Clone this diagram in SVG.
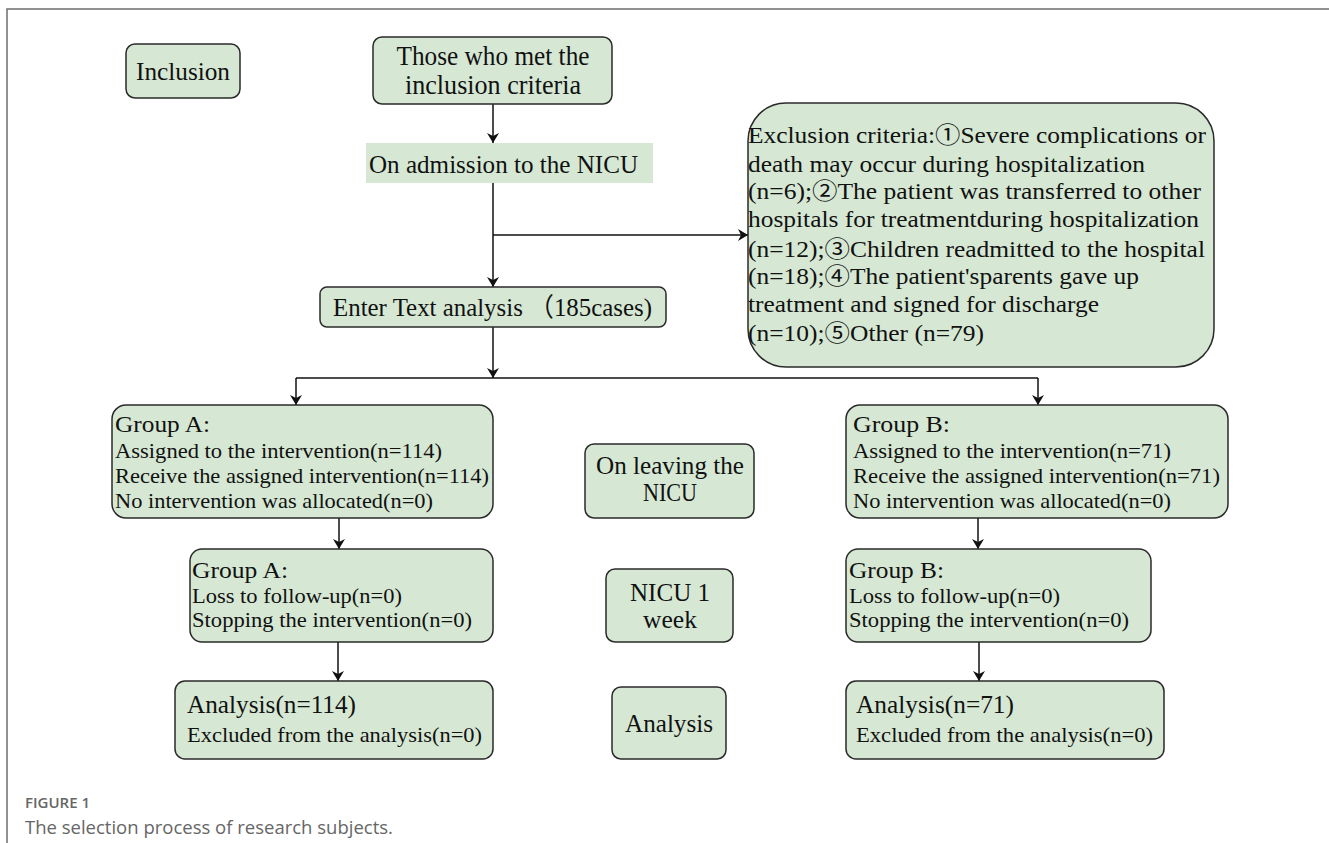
<svg xmlns="http://www.w3.org/2000/svg" width="1329" height="843" viewBox="0 0 1329 843">
<defs>
<marker id="ah" markerWidth="10" markerHeight="12" refX="10" refY="6" orient="auto" markerUnits="userSpaceOnUse">
<path d="M0,0 L10,6 L0,12 L3,6 Z" fill="#111"/>
</marker>
<style>
.box{fill:#d6e8d4;stroke:#2a2a2a;stroke-width:1.5}
.t{font-family:"Liberation Serif","DejaVu Serif","Noto Sans CJK SC",serif;fill:#111}
.c{text-anchor:middle}
.ln{stroke:#111;stroke-width:1.5;fill:none}
.arr{marker-end:url(#ah)}
.cap{font-family:"Open Sans","Noto Sans",sans-serif}
</style>
</defs>
<rect width="1329" height="843" fill="#fff"/>
<path d="M7,843 V9 H1329" fill="none" stroke="#6e6e6e" stroke-width="1.5"/>

<g id="connectors">
<line class="ln arr" x1="493" y1="104" x2="493" y2="143"/>
<line class="ln arr" x1="493" y1="183" x2="493" y2="287"/>
<line class="ln arr" x1="493" y1="235" x2="748" y2="235"/>
<line class="ln arr" x1="493" y1="327" x2="493" y2="378"/>
<line class="ln" x1="296" y1="378" x2="1038" y2="378"/>
<line class="ln arr" x1="296" y1="378" x2="296" y2="405"/>
<line class="ln arr" x1="1038" y1="378" x2="1038" y2="405"/>
<line class="ln arr" x1="339" y1="518" x2="339" y2="549"/>
<line class="ln arr" x1="338" y1="642" x2="338" y2="681"/>
<line class="ln arr" x1="978" y1="518" x2="978" y2="549"/>
<line class="ln arr" x1="979" y1="642" x2="979" y2="681"/>
</g>

<g id="inclusion">
<rect class="box" x="126" y="44" width="114" height="54" rx="9"/>
<text class="t c" x="183" y="80" font-size="26" textLength="94" lengthAdjust="spacingAndGlyphs">Inclusion</text>
</g>

<g id="met-criteria">
<rect class="box" x="373" y="37" width="239" height="67" rx="9"/>
<text class="t c" x="493" y="65" font-size="27" textLength="193" lengthAdjust="spacingAndGlyphs">Those who met the</text>
<text class="t c" x="493" y="94" font-size="27" textLength="176" lengthAdjust="spacingAndGlyphs">inclusion criteria</text>
</g>

<g id="admission">
<rect x="366" y="143" width="287" height="40" fill="#d6e8d4"/>
<text class="t" x="369" y="173" font-size="26" textLength="269" lengthAdjust="spacingAndGlyphs">On admission to the NICU</text>
</g>

<g id="exclusion">
<rect class="box" x="748" y="103" width="466" height="264" rx="38"/>
<text class="t" x="748" y="143" font-size="23" textLength="458" lengthAdjust="spacingAndGlyphs">Exclusion criteria:①Severe complications or</text>
<text class="t" x="748" y="172" font-size="23" textLength="397" lengthAdjust="spacingAndGlyphs">death may occur during hospitalization</text>
<text class="t" x="748" y="199" font-size="23" textLength="453" lengthAdjust="spacingAndGlyphs">(n=6);②The patient was transferred to other</text>
<text class="t" x="748" y="227" font-size="23" textLength="451" lengthAdjust="spacingAndGlyphs">hospitals for treatmentduring hospitalization</text>
<text class="t" x="748" y="257" font-size="23" textLength="457" lengthAdjust="spacingAndGlyphs">(n=12);③Children readmitted to the hospital</text>
<text class="t" x="748" y="284" font-size="23" textLength="391" lengthAdjust="spacingAndGlyphs">(n=18);④The patient'sparents gave up</text>
<text class="t" x="748" y="312" font-size="23" textLength="351" lengthAdjust="spacingAndGlyphs">treatment and signed for discharge</text>
<text class="t" x="748" y="341" font-size="23" textLength="236" lengthAdjust="spacingAndGlyphs">(n=10);⑤Other (n=79)</text>
</g>

<g id="enter">
<rect class="box" x="320" y="287" width="346" height="40" rx="7"/>
<text class="t" x="333" y="316" font-size="26" textLength="319" lengthAdjust="spacingAndGlyphs">Enter Text analysis （185cases)</text>
</g>

<g id="groupA1">
<rect class="box" x="112" y="405" width="381" height="113" rx="14"/>
<text class="t" x="115" y="432" font-size="24" textLength="95" lengthAdjust="spacingAndGlyphs">Group A:</text>
<text class="t" x="115" y="458" font-size="21" textLength="327" lengthAdjust="spacingAndGlyphs">Assigned to the intervention(n=114)</text>
<text class="t" x="115" y="483" font-size="21" textLength="374" lengthAdjust="spacingAndGlyphs">Receive the assigned intervention(n=114)</text>
<text class="t" x="115" y="508" font-size="21" textLength="318" lengthAdjust="spacingAndGlyphs">No intervention was allocated(n=0)</text>
</g>

<g id="groupA2">
<rect class="box" x="190" y="549" width="303" height="93" rx="12"/>
<text class="t" x="192" y="578" font-size="24" textLength="96" lengthAdjust="spacingAndGlyphs">Group A:</text>
<text class="t" x="192" y="603" font-size="21" textLength="210" lengthAdjust="spacingAndGlyphs">Loss to follow-up(n=0)</text>
<text class="t" x="192" y="627" font-size="21" textLength="280" lengthAdjust="spacingAndGlyphs">Stopping the intervention(n=0)</text>
</g>

<g id="analysisA">
<rect class="box" x="175" y="681" width="318" height="78" rx="10"/>
<text class="t" x="187" y="713" font-size="26" textLength="169" lengthAdjust="spacingAndGlyphs">Analysis(n=114)</text>
<text class="t" x="187" y="742" font-size="21" textLength="295" lengthAdjust="spacingAndGlyphs">Excluded from the analysis(n=0)</text>
</g>

<g id="leaving">
<rect class="box" x="585" y="444" width="169" height="74" rx="9"/>
<text class="t c" x="670" y="474" font-size="25" textLength="148" lengthAdjust="spacingAndGlyphs">On leaving the</text>
<text class="t c" x="670" y="501" font-size="25" textLength="54" lengthAdjust="spacingAndGlyphs">NICU</text>
</g>

<g id="week1">
<rect class="box" x="606" y="569" width="127" height="73" rx="9"/>
<text class="t c" x="670" y="601" font-size="25" textLength="80" lengthAdjust="spacingAndGlyphs">NICU 1</text>
<text class="t c" x="670" y="628" font-size="25" textLength="54" lengthAdjust="spacingAndGlyphs">week</text>
</g>

<g id="analysisMid">
<rect class="box" x="612" y="687" width="114" height="72" rx="9"/>
<text class="t c" x="669" y="732" font-size="25" textLength="88" lengthAdjust="spacingAndGlyphs">Analysis</text>
</g>

<g id="groupB1">
<rect class="box" x="846" y="405" width="382" height="113" rx="14"/>
<text class="t" x="853" y="432" font-size="24" textLength="97" lengthAdjust="spacingAndGlyphs">Group B:</text>
<text class="t" x="853" y="458" font-size="21" textLength="318" lengthAdjust="spacingAndGlyphs">Assigned to the intervention(n=71)</text>
<text class="t" x="853" y="483" font-size="21" textLength="367" lengthAdjust="spacingAndGlyphs">Receive the assigned intervention(n=71)</text>
<text class="t" x="853" y="508" font-size="21" textLength="318" lengthAdjust="spacingAndGlyphs">No intervention was allocated(n=0)</text>
</g>

<g id="groupB2">
<rect class="box" x="846" y="549" width="305" height="93" rx="12"/>
<text class="t" x="849" y="578" font-size="24" textLength="95" lengthAdjust="spacingAndGlyphs">Group B:</text>
<text class="t" x="849" y="603" font-size="21" textLength="211" lengthAdjust="spacingAndGlyphs">Loss to follow-up(n=0)</text>
<text class="t" x="849" y="627" font-size="21" textLength="280" lengthAdjust="spacingAndGlyphs">Stopping the intervention(n=0)</text>
</g>

<g id="analysisB">
<rect class="box" x="846" y="681" width="318" height="78" rx="10"/>
<text class="t" x="856" y="713" font-size="26" textLength="158" lengthAdjust="spacingAndGlyphs">Analysis(n=71)</text>
<text class="t" x="856" y="742" font-size="21" textLength="297" lengthAdjust="spacingAndGlyphs">Excluded from the analysis(n=0)</text>
</g>

<g id="caption">
<text class="cap" x="25" y="808" font-size="15" font-weight="600" fill="#666">FIGURE 1</text>
<text class="cap" x="25" y="834" font-size="18.5" fill="#666">The selection process of research subjects.</text>
</g>
</svg>
